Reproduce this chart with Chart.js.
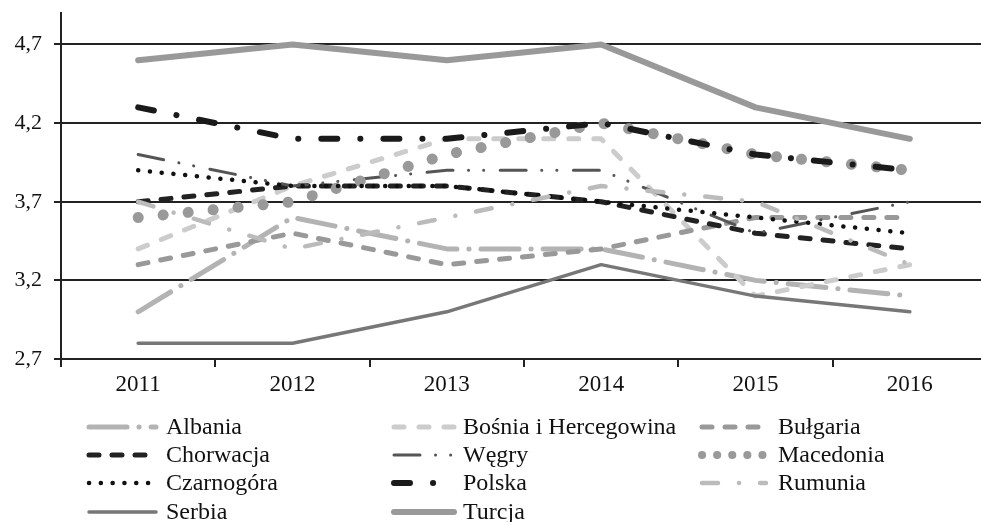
<!DOCTYPE html>
<html>
<head>
<meta charset="utf-8">
<script src="https://cdn.jsdelivr.net/npm/chart.js@4"></script>
<style>
  body { margin: 0; overflow: hidden; background: #fff; }
</style>
</head>
<body>
<canvas id="grafico" width="1000" height="522"></canvas>
<script>
// Datos
var years = ["2011", "2012", "2013", "2014", "2015", "2016"];
var yTicks = [2.7, 3.2, 3.7, 4.2, 4.7];

var albania = [3.0, 3.6, 3.4, 3.4, 3.2, 3.1];
var bosnia = [3.4, 3.8, 4.1, 4.1, 3.1, 3.3];
var bulgaria = [3.3, 3.5, 3.3, 3.4, 3.6, 3.6];
var chorwacja = [3.7, 3.8, 3.8, 3.7, 3.5, 3.4];
var wegry = [4.0, 3.8, 3.9, 3.9, 3.5, 3.7];
var macedonia = [3.6, 3.7, 4.0, 4.2, 4.0, 3.9];
var czarnogora = [3.9, 3.8, 3.8, 3.7, 3.6, 3.5];
var polska = [4.3, 4.1, 4.1, 4.2, 4.0, 3.9];
var rumunia = [3.7, 3.4, 3.6, 3.8, 3.7, 3.3];
var serbia = [2.8, 2.8, 3.0, 3.3, 3.1, 3.0];
var turcja = [4.6, 4.7, 4.6, 4.7, 4.3, 4.1];

// Series
var series = [
  { label: "Albania", data: albania, color: "#b3b3b3", width: 5, dash: [38, 12, 0.1, 12] },
  { label: "Bośnia i Hercegowina", data: bosnia, color: "#cccccc", width: 5, dash: [10, 15] },
  { label: "Bułgaria", data: bulgaria, color: "#999999", width: 5, dash: [10, 13] },
  { label: "Chorwacja", data: chorwacja, color: "#222222", width: 5, dash: [10, 13] },
  { label: "Węgry", data: wegry, color: "#555555", width: 3, dash: [26, 15.5, 0.1, 15, 0.1, 16.5] },
  { label: "Macedonia", data: macedonia, color: "#999999", width: 11, dash: [0.1, 25] },
  { label: "Czarnogóra", data: czarnogora, color: "#111111", width: 4.5, dash: [0.1, 11.7] },
  { label: "Polska", data: polska, color: "#1a1a1a", width: 6, dash: [16, 23, 0.1, 23] },
  { label: "Rumunia", data: rumunia, color: "#bbbbbb", width: 4.5, dash: [16, 21, 0.1, 21] },
  { label: "Serbia", data: serbia, color: "#777777", width: 3.5, dash: [] },
  { label: "Turcja", data: turcja, color: "#999999", width: 6, dash: [] }
];

var datasets = series.map(function(s, i) {
  return {
    label: s.label,
    data: s.data,
    borderColor: s.color,
    borderWidth: s.width,
    borderDash: s.dash,
    borderCapStyle: "round",
    borderJoinStyle: "round",
    pointRadius: 0,
    tension: 0,
    fill: false,
    order: series.length - i
  };
});

// Leyenda en tres columnas
var legendCols = [
  { from: 89, to: 156, text: 166 },
  { from: 394, to: 454, text: 463 },
  { from: 702, to: 766, text: 778 }
];
var legendRows = [427, 455, 483, 512];

var leyenda = {
  id: "leyenda",
  afterDraw: function(chart) {
    var ctx = chart.ctx;
    chart.data.datasets.forEach(function(ds, i) {
      var col = legendCols[i % 3];
      var y = legendRows[Math.floor(i / 3)];
      ctx.save();
      ctx.strokeStyle = ds.borderColor;
      ctx.lineWidth = ds.borderWidth > 8 ? 8 : ds.borderWidth;
      ctx.lineCap = "round";
      ctx.setLineDash(ds.borderWidth > 8 ? [0.1, 15] : ds.borderDash);
      ctx.beginPath();
      ctx.moveTo(col.from, y);
      ctx.lineTo(col.to, y);
      ctx.stroke();
      ctx.restore();
      ctx.fillStyle = "#111";
      ctx.font = '24px "Liberation Serif"';
      ctx.textBaseline = "middle";
      ctx.fillText(ds.label, col.text, y + 1);
    });
  }
};

var grafico = new Chart(document.getElementById("grafico"), {
  type: "line",
  data: { labels: years, datasets: datasets },
  plugins: [leyenda],
  options: {
    responsive: false,
    animation: false,
    devicePixelRatio: 1,
    layout: { padding: { top: 13, right: 13, left: 0, bottom: 0 } },
    plugins: { legend: { display: false }, tooltip: { enabled: false } },
    scales: {
      x: {
        offset: true,
        afterFit: function(s) {
          s.height = 163;
          s.paddingLeft = 0;
          s.paddingRight = 0;
        },
        grid: { display: true, drawOnChartArea: false, drawTicks: true, tickLength: 8, offset: true, color: "#222", lineWidth: 2 },
        border: { display: true, color: "#222", width: 2 },
        ticks: { color: "#111", padding: 4, font: { family: "Liberation Serif", size: 23 } }
      },
      y: {
        min: 2.7,
        max: 4.9,
        afterFit: function(s) {
          s.width = 61;
          s.paddingTop = 0;
          s.paddingBottom = 0;
        },
        afterBuildTicks: function(s) {
          s.ticks = yTicks.map(function(v) { return { value: v }; });
        },
        grid: { color: "#222", lineWidth: 2, tickLength: 7 },
        border: { display: true, color: "#222", width: 2 },
        ticks: {
          color: "#111",
          padding: 12,
          font: { family: "Liberation Serif", size: 22 },
          callback: function(v) { return v.toFixed(1).replace(".", ","); }
        }
      }
    }
  }
});
</script>
</body>
</html>
